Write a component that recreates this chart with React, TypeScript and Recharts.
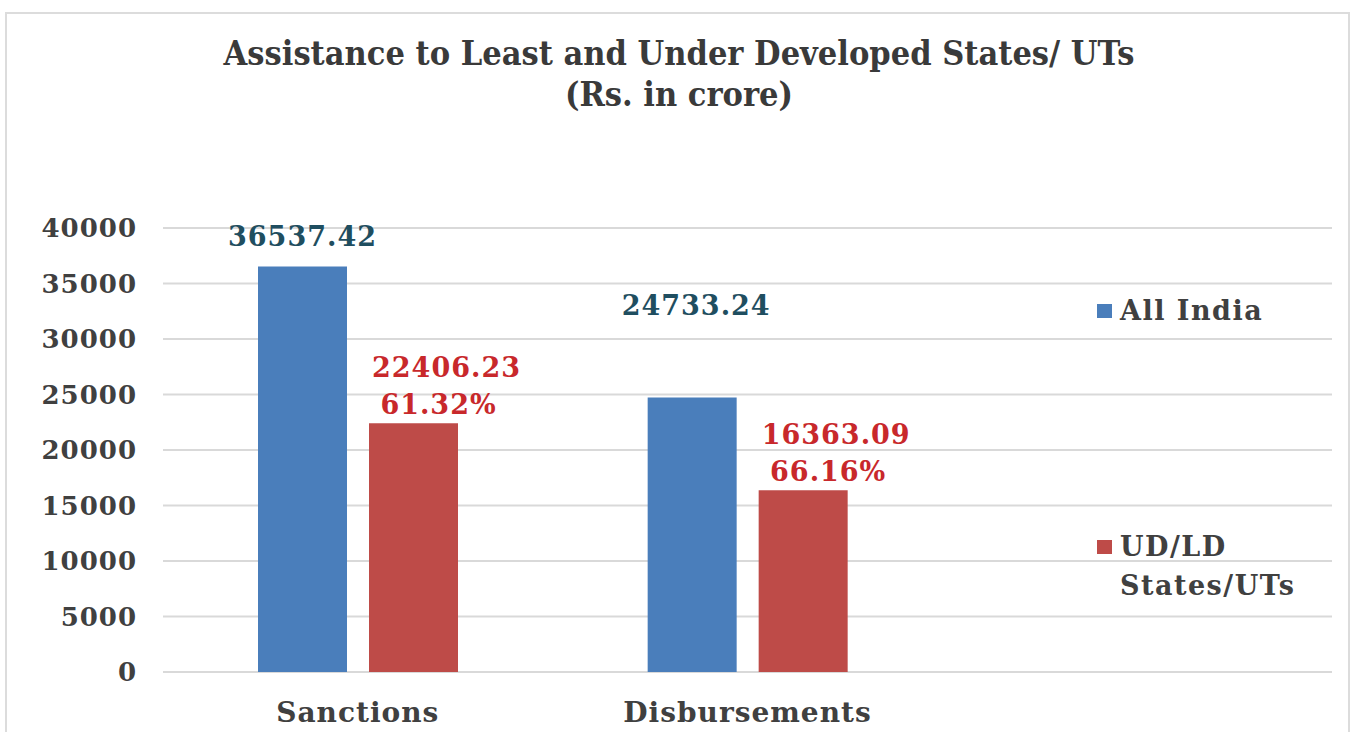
import React from "react";
import {
  BarChart,
  Bar,
  XAxis,
  YAxis,
  CartesianGrid,
  LabelList,
} from "recharts";

// ==========================================
// Data
// ==========================================
const categories = ["Sanctions", "Disbursements", ""];
const allIndia = [36537.42, 24733.24, null];
const udld = [22406.23, 16363.09, null];
const udldShare = ["61.32%", "66.16%", ""];
const yTicks = [0, 5000, 10000, 15000, 20000, 25000, 30000, 35000, 40000];

const data = categories.map((name, i) => ({
  name,
  allIndia: allIndia[i],
  udld: udld[i],
}));

// styling
const SERIF = "'DejaVu Serif', 'Liberation Serif', serif";
const BLUE = "#4a7ebb";
const RED = "#be4b48";
const TEXT = "#404040";
const BLUE_LABEL = "#1f4e60";
const RED_LABEL = "#c8282b";
const blueLift = [30, 92];
const blueShift = [0, 4];

const labelStyle = {
  fontFamily: SERIF,
  fontSize: 27,
  fontWeight: 700,
  letterSpacing: 1,
};

function BlueLabel(props: any) {
  const { x, y, width, value, index } = props;
  if (value == null) return null;
  return (
    <text
      x={x + width / 2 + blueShift[index]}
      y={y - blueLift[index]}
      textAnchor="middle"
      dominantBaseline="central"
      fill={BLUE_LABEL}
      style={labelStyle}
    >
      {value.toFixed(2)}
    </text>
  );
}

function RedLabel(props: any) {
  const { x, y, width, value, index } = props;
  if (value == null) return null;
  const cx = x + width / 2 + 33;
  return (
    <g fill={RED_LABEL} style={labelStyle}>
      <text x={cx} y={y - 56} textAnchor="middle" dominantBaseline="central">
        {value.toFixed(2)}
      </text>
      <text x={cx - 8} y={y - 19} textAnchor="middle" dominantBaseline="central">
        {udldShare[index]}
      </text>
    </g>
  );
}

function SideLegend() {
  const item = (color: string, lines: string[], top: number) => (
    <div style={{ position: "absolute", left: 0, top }}>
      <div
        style={{
          position: "absolute",
          left: 0,
          top: 9,
          width: 15,
          height: 14,
          background: color,
        }}
      />
      <div
        style={{
          marginLeft: 23,
          fontFamily: SERIF,
          fontSize: 27,
          fontWeight: 700,
          letterSpacing: 1.5,
          color: TEXT,
          lineHeight: "39px",
          whiteSpace: "nowrap",
          marginTop: -4,
        }}
      >
        {lines.map((l) => (
          <div key={l}>{l}</div>
        ))}
      </div>
    </div>
  );
  return (
    <div style={{ position: "absolute", left: 1097, top: 295, width: 250, height: 320 }}>
      {item(BLUE, ["All India"], 0)}
      {item(RED, ["UD/LD", "States/UTs"], 236)}
    </div>
  );
}

export default function App() {
  return (
    <div
      style={{
        position: "absolute",
        left: 0,
        top: 0,
        width: 1353,
        height: 732,
        background: "#fff",
        overflow: "hidden",
      }}
    >
      <div
        style={{
          position: "absolute",
          left: 5,
          top: 12,
          width: 1345,
          height: 730,
          border: "2px solid #dcdcdc",
          boxSizing: "border-box",
        }}
      />
      <div
        style={{
          position: "absolute",
          left: 0,
          top: 33,
          width: 1358,
          textAlign: "center",
          fontFamily: "'DejaVu Serif Condensed', " + SERIF,
          fontWeight: 700,
          fontSize: 34,
          lineHeight: "41px",
          color: "#3a3a3a",
        }}
      >
        <div>Assistance to Least and Under Developed States/ UTs</div>
        <div>(Rs. in crore)</div>
      </div>
      <div style={{ position: "absolute", left: 0, top: 0 }}>
        <BarChart
          width={1353}
          height={732}
          data={data}
          margin={{ top: 228, right: 21, bottom: 10, left: 0 }}
          barSize={89}
          barGap={22}
        >
          <CartesianGrid vertical={false} stroke="#d9d9d9" strokeWidth={2} />
          <XAxis
            dataKey="name"
            axisLine={false}
            tickLine={false}
            tickSize={0}
            tickMargin={30}
            height={50}
            tick={{
              fill: TEXT,
              fontFamily: SERIF,
              fontSize: 28,
              fontWeight: 700,
              letterSpacing: 1,
            }}
          />
          <YAxis
            width={163}
            domain={[0, 40000]}
            ticks={yTicks}
            axisLine={false}
            tickLine={false}
            tickSize={0}
            tickMargin={26}
            tick={{
              fill: TEXT,
              fontFamily: SERIF,
              fontSize: 26,
              fontWeight: 700,
              letterSpacing: 1,
            }}
          />
          <Bar dataKey="allIndia" name="All India" fill={BLUE} isAnimationActive={false}>
            <LabelList dataKey="allIndia" content={BlueLabel} />
          </Bar>
          <Bar dataKey="udld" name="UD/LD States/UTs" fill={RED} isAnimationActive={false}>
            <LabelList dataKey="udld" content={RedLabel} />
          </Bar>
        </BarChart>
      </div>
      <SideLegend />
    </div>
  );
}
